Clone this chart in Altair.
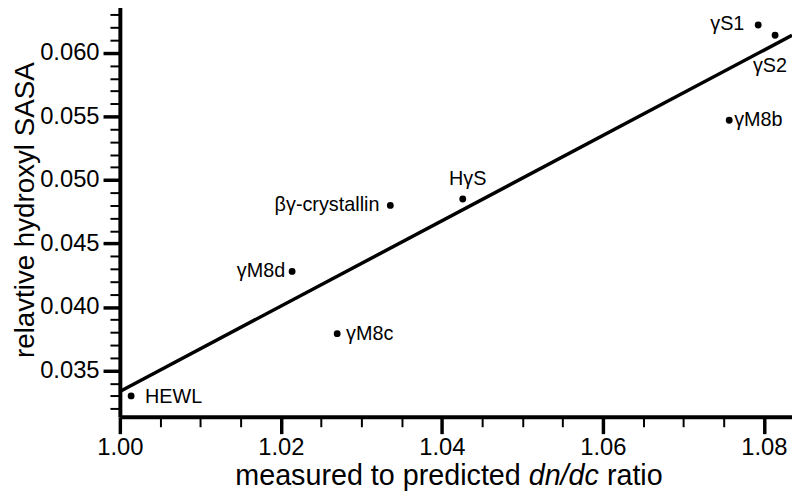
import altair as alt
import pandas as pd

# ---- data ----
proteins = ["HEWL", "γM8d", "γM8c", "βγ-crystallin", "HγS", "γM8b", "γS1", "γS2"]
dndc_ratio = [1.0014, 1.0214, 1.0270, 1.0336, 1.0426, 1.0757, 1.0793, 1.0814]
hydroxyl_sasa = [0.0330, 0.0428, 0.0379, 0.0480, 0.0485, 0.0547, 0.0622, 0.0614]

x_ticks = [round(1.0 + 0.005 * i, 3) for i in range(17)]    # 1.000 ... 1.080
y_ticks = [round(0.032 + 0.001 * i, 3) for i in range(32)]  # 0.032 ... 0.063
x_title_parts = ["measured to predicted", "dn/dc", "ratio"]
y_title = "relavtive hydroxyl SASA"

X_DOMAIN = [1.0, 1.0835]
Y_DOMAIN = [0.03135, 0.06397]
W, H = 679, 418.5
FONT = "Liberation Sans"

df = pd.DataFrame({"protein": proteins, "ratio": dndc_ratio, "sasa": hydroxyl_sasa})

major_x = "abs(datum.value*50 - round(datum.value*50)) < 1e-6"
major_y = "abs(datum.value*200 - round(datum.value*200)) < 1e-6"

xaxis = alt.Axis(
    values=x_ticks, title=None, grid=False,
    labelExpr=f"{major_x} ? format(datum.value, '.2f') : ''",
    tickSize={"condition": {"test": major_x, "value": 17}, "value": 10},
    tickWidth={"condition": {"test": major_x, "value": 3.5}, "value": 2},
    labelOverlap=False, labelFlush=False, labelPadding=2,
    labelFontSize=24, labelFont=FONT, labelColor="black",
    domainColor="black", domainWidth=4, tickColor="black",
)
yaxis = alt.Axis(
    values=y_ticks, title=y_title, grid=False,
    labelExpr=f"{major_y} ? format(datum.value, '.3f') : ''",
    tickSize={"condition": {"test": major_y, "value": 17}, "value": 10},
    tickWidth={"condition": {"test": major_y, "value": 3.5}, "value": 2},
    labelOverlap=False, labelFlush=False, labelPadding=4,
    labelFontSize=24, labelFont=FONT, labelColor="black",
    domainColor="black", domainWidth=4, tickColor="black",
    titleFont=FONT, titleFontSize=28, titleFontWeight="normal", titleColor="black",
    titlePadding=0,
)

xs = alt.Scale(domain=X_DOMAIN, nice=False, zero=False)
ys = alt.Scale(domain=Y_DOMAIN, nice=False, zero=False)
X = alt.X("ratio:Q", scale=xs, axis=xaxis)
Y = alt.Y("sasa:Q", scale=ys, axis=yaxis)

base = alt.Chart(df)

fit = base.transform_regression("ratio", "sasa", extent=X_DOMAIN).mark_line(
    color="black", strokeWidth=3.5
).encode(x=X, y=Y)

points = base.mark_circle(size=48, color="black", opacity=1).encode(x=X, y=Y)

# label placement: (align, dx, dy)
placement = {
    "HEWL": ("left", 14, 7),
    "γM8d": ("right", -7, 6),
    "γM8c": ("left", 9, 6),
    "βγ-crystallin": ("right", -11, 6),
    "HγS": ("center", 5, -14),
    "γM8b": ("left", 5, 6),
    "γS1": ("right", -14, 5),
    "γS2": ("right", 12, 37),
}
label_layers = []
for name in proteins:
    al, dx, dy = placement[name]
    label_layers.append(
        base.transform_filter(alt.datum.protein == name)
        .mark_text(align=al, baseline="alphabetic", dx=dx, dy=dy,
                   fontSize=20, font=FONT, color="black")
        .encode(x=X, y=Y, text="protein:N")
    )

# x-axis title with italic dn/dc
TY = 487
TFS = 29
title_layers = [
    alt.Chart(pd.DataFrame({"t": [x_title_parts[0]]})).mark_text(
        align="right", baseline="alphabetic", fontSize=TFS, font=FONT, color="black"
    ).encode(x=alt.value(405), y=alt.value(TY), text="t:N"),
    alt.Chart(pd.DataFrame({"t": [x_title_parts[1]]})).mark_text(
        align="left", baseline="alphabetic", fontSize=TFS, font=FONT, fontStyle="italic", color="black"
    ).encode(x=alt.value(413), y=alt.value(TY), text="t:N"),
    alt.Chart(pd.DataFrame({"t": [x_title_parts[2]]})).mark_text(
        align="left", baseline="alphabetic", fontSize=TFS, font=FONT, color="black"
    ).encode(x=alt.value(492), y=alt.value(TY), text="t:N"),
]

chart = alt.layer(fit, points, *label_layers, *title_layers).properties(
    width=W, height=H,
    autosize=alt.AutoSizeParams(type="none"),
    padding={"left": 113, "top": -8, "right": 0, "bottom": 80},
    background="white",
).configure_view(stroke=None)

chart.save("out.html", embed_options={"renderer": "svg", "actions": False})
